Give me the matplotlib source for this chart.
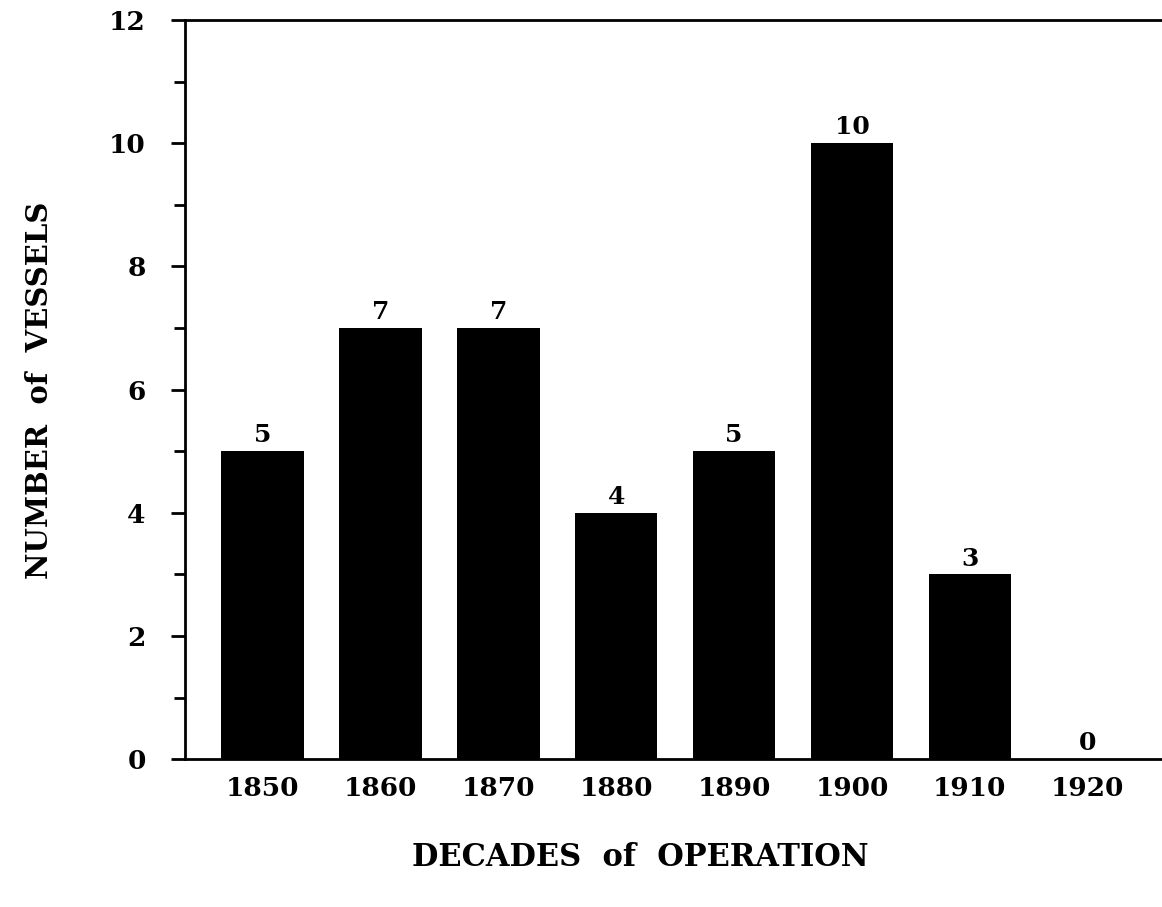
import numpy as np
import matplotlib.pyplot as plt
from matplotlib.ticker import MultipleLocator

decades = ['1850', '1860', '1870', '1880', '1890', '1900', '1910', '1920']
vessels = [5, 7, 7, 4, 5, 10, 3, 0]

plt.rcParams['font.family'] = ['DejaVu Serif']
plt.rcParams['font.weight'] = 'bold'

fig = plt.figure(figsize=(11.62, 9.07), dpi=100)
ax = fig.add_axes([0.159, 0.163, 0.841, 0.815])

x = np.arange(len(decades))
bars = ax.bar(x, vessels, width=0.7, color='black')

# numbers on top of the bars
for xi, v in zip(x, vessels):
    ax.text(xi, v + 0.06, str(v), ha='center', va='bottom',
            fontsize=18, fontweight='bold')

ax.set_xlim(-0.66, 7.63)
ax.set_ylim(0, 12)
ax.set_xticks(x)
ax.set_xticklabels(decades, fontsize=19, fontweight='bold')
ax.set_yticks(range(0, 13, 2))
ax.set_yticklabels([str(v) for v in range(0, 13, 2)], fontsize=19, fontweight='bold')
ax.yaxis.set_minor_locator(MultipleLocator(1))

ax.tick_params(axis='x', length=0, pad=12)
ax.tick_params(axis='y', which='major', direction='out', length=10, width=2, pad=18)
ax.tick_params(axis='y', which='minor', direction='out', length=8, width=2)

ax.spines['right'].set_visible(False)
for s in ['left', 'top', 'bottom']:
    ax.spines[s].set_linewidth(2)

# axis titles placed in figure pixels like the scanned original
fig.text(40 / 1162, 1 - 390 / 907, 'NUMBER  of  VESSELS', rotation=90,
         ha='center', va='center', fontsize=21, fontweight='bold')
fig.text(640 / 1162, 1 - 858 / 907, 'DECADES  of  OPERATION',
         ha='center', va='center', fontsize=22, fontweight='bold')

fig.savefig('out.png', dpi=100)
